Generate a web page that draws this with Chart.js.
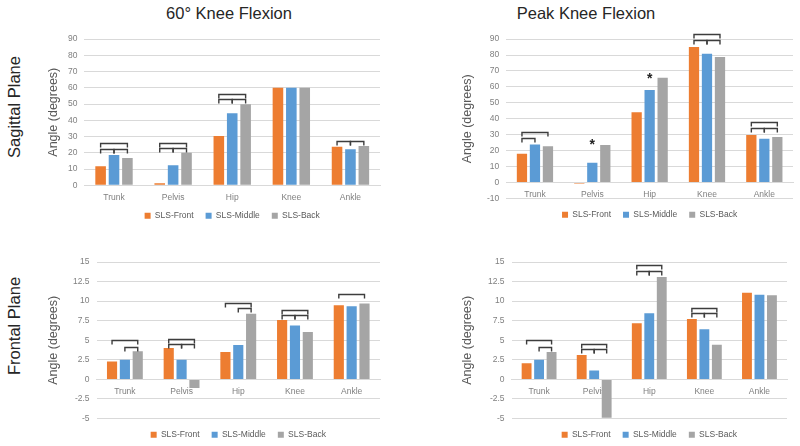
<!DOCTYPE html>
<html><head><meta charset="utf-8">
<script src="https://cdn.jsdelivr.net/npm/chart.js@4/dist/chart.umd.min.js"></script>
<style>
html,body{margin:0;padding:0;background:#fff;width:800px;height:446px;overflow:hidden;font-family:"Liberation Sans",Arial,sans-serif;}
canvas{position:absolute;}
.t{position:absolute;font-size:16.5px;color:#262626;white-space:nowrap;transform:translate(-50%,-50%);}
.r{position:absolute;font-size:16.5px;color:#262626;white-space:nowrap;transform:translate(-50%,-50%) rotate(-90deg);}
</style></head><body>
<div class="t" style="left:229px;top:13px">60° Knee Flexion</div>
<div class="t" style="left:586px;top:13px">Peak Knee Flexion</div>
<div class="r" style="left:14px;top:107px">Sagittal Plane</div>
<div class="r" style="left:14px;top:326px">Frontal Plane</div>
<canvas id="tl" width="370" height="203" style="left:30px;top:27px"></canvas>
<canvas id="tr" width="360" height="202" style="left:440px;top:27px"></canvas>
<canvas id="bl" width="370" height="204" style="left:30px;top:245px"></canvas>
<canvas id="br" width="360" height="204" style="left:440px;top:245px"></canvas>
<script>
const categories = ['Trunk', 'Pelvis', 'Hip', 'Knee', 'Ankle'];
const seriesNames = ['SLS-Front', 'SLS-Middle', 'SLS-Back'];
const seriesColors = ['#ED7D31', '#5B9BD5', '#A5A5A5'];

// Sagittal plane, 60° knee flexion
const sag60Front  = [11.8, 1.2, 30.4, 60.0, 23.8];
const sag60Middle = [18.6, 12.4, 44.3, 60.0, 22.2];
const sag60Back   = [16.8, 20.1, 49.9, 60.0, 24.2];
// Sagittal plane, peak knee flexion
const sagPeakFront  = [18.1, -0.6, 44.1, 85.1, 29.9];
const sagPeakMiddle = [23.9, 12.4, 58.0, 80.8, 27.5];
const sagPeakBack   = [22.8, 23.5, 65.7, 78.7, 28.6];
// Frontal plane, 60° knee flexion
const fro60Front  = [2.3, 4.0, 3.5, 7.6, 9.46];
const fro60Middle = [2.5, 2.5, 4.4, 6.9, 9.33];
const fro60Back   = [3.6, -1.1, 8.4, 6.05, 9.7];
// Frontal plane, peak knee flexion
const froPeakFront  = [2.05, 3.1, 7.16, 7.7, 11.08];
const froPeakMiddle = [2.5, 1.15, 8.44, 6.4, 10.82];
const froPeakBack   = [3.5, -4.9, 13.08, 4.43, 10.74];

// significance brackets: [category, from series, to series, value]
const sag60Brackets = [[0,0,2,26],[0,0,1,22.6],[0,1,2,22.6],[1,0,2,26.3],[1,0,1,23],[1,1,2,23],
  [2,0,2,56.5],[2,0,1,53],[2,1,2,53],[4,0,1,27.5],[4,1,2,27.5]];
const sagPeakBrackets = [[0,0,2,31.6],[0,0,1,27.7],[3,0,2,93],[3,0,1,89.5],[3,1,2,89.5],
  [4,0,2,38],[4,0,1,34.1],[4,1,2,34.1]];
const sagPeakStars = [[1,1,25.6],[2,1,67]];
const fro60Brackets = [[0,0,2,4.98],[0,1,2,4.18],[1,0,2,5.2],[1,0,1,4.47],[1,1,2,4.47],
  [2,0,2,9.7],[2,1,2,9.07],[3,0,2,8.86],[3,0,1,8.22],[3,1,2,8.22],[4,0,2,10.87]];
const froPeakBrackets = [[0,0,2,4.98],[0,1,2,4.18],[1,0,2,4.56],[1,0,1,3.88],[1,1,2,3.88],
  [2,0,2,14.57],[2,0,1,13.85],[2,1,2,13.85],[3,0,2,9.16],[3,0,1,8.52],[3,1,2,8.52]];

const sagTicks = {min: 0, max: 90, step: 10};
const sagPeakTicks = {min: -10, max: 90, step: 10};
const froTicks = {min: -5, max: 15, step: 2.5};

const FONT = '"Liberation Sans", Arial, sans-serif';

const bracketPlugin = {
  id: 'brackets',
  afterDatasetsDraw(chart, args, o) {
    const ctx = chart.ctx, ys = chart.scales.y;
    ctx.save();
    ctx.strokeStyle = '#3d3d3d';
    ctx.lineWidth = 1.4;
    (o.brackets || []).forEach(([c, s1, s2, v]) => {
      const x1 = chart.getDatasetMeta(s1).data[c].x;
      const x2 = chart.getDatasetMeta(s2).data[c].x;
      const py = Math.round(ys.getPixelForValue(v)) + 0.5;
      ctx.beginPath();
      ctx.moveTo(x1, py + 4); ctx.lineTo(x1, py); ctx.lineTo(x2, py); ctx.lineTo(x2, py + 4);
      ctx.stroke();
    });
    ctx.fillStyle = '#222';
    ctx.font = 'bold 14px ' + FONT;
    ctx.textAlign = 'center';
    ctx.textBaseline = 'middle';
    (o.stars || []).forEach(([c, s, v]) => {
      const x = chart.getDatasetMeta(s).data[c].x;
      ctx.fillText('*', x, ys.getPixelForValue(v) + 3);
    });
    ctx.restore();
  }
};

function makeChart(id, series, ticks, brackets, stars, pad, titlePad, legendGap) {
  return new Chart(document.getElementById(id), {
    type: 'bar',
    data: {
      labels: categories,
      datasets: series.map((d, i) => ({
        label: seriesNames[i], data: d, backgroundColor: seriesColors[i],
        categoryPercentage: 0.68, barPercentage: 0.79
      }))
    },
    options: {
      responsive: false, animation: false, devicePixelRatio: 1,
      layout: {padding: pad},
      scales: {
        x: {
          position: {y: 0},
          grid: {display: false, drawTicks: false},
          border: {color: '#d9d9d9', width: 1},
          ticks: {color: '#7f7f7f', font: {family: FONT, size: 8.5}, padding: 7}
        },
        y: {
          min: ticks.min, max: ticks.max,
          grid: {color: '#d9d9d9', drawTicks: false},
          border: {display: false},
          ticks: {stepSize: ticks.step, color: '#808080', font: {family: FONT, size: 8.5}, padding: 7},
          title: {display: true, text: 'Angle (degrees)', color: '#595959', font: {family: FONT, size: 12.5}, padding: {top: 0, bottom: titlePad}}
        }
      },
      plugins: {
        legend: {
          position: 'bottom',
          fullSize: false,
          title: {display: legendGap > 0, text: ' ', font: {size: 1}, padding: {top: 0, bottom: legendGap}},
          labels: {boxWidth: 6, boxHeight: 6, padding: 12, color: '#595959', font: {family: FONT, size: 8.5}}
        },
        tooltip: {enabled: false},
        brackets: {brackets: brackets, stars: stars}
      }
    },
    plugins: [bracketPlugin]
  });
}

makeChart('tl', [sag60Front, sag60Middle, sag60Back], sagTicks, sag60Brackets, [], {left: 16, right: 20, top: 11, bottom: 0}, 0, 13);
makeChart('tr', [sagPeakFront, sagPeakMiddle, sagPeakBack], sagPeakTicks, sagPeakBrackets, sagPeakStars, {left: 20, right: 7, top: 11, bottom: 0}, 5, 0);
makeChart('bl', [fro60Front, fro60Middle, fro60Back], froTicks, fro60Brackets, [], {left: 16, right: 20, top: 17, bottom: 0}, 5, 0);
makeChart('br', [froPeakFront, froPeakMiddle, froPeakBack], froTicks, froPeakBrackets, [], {left: 20, right: 13, top: 17, bottom: 0}, 6, 0);
</script>
</body></html>
